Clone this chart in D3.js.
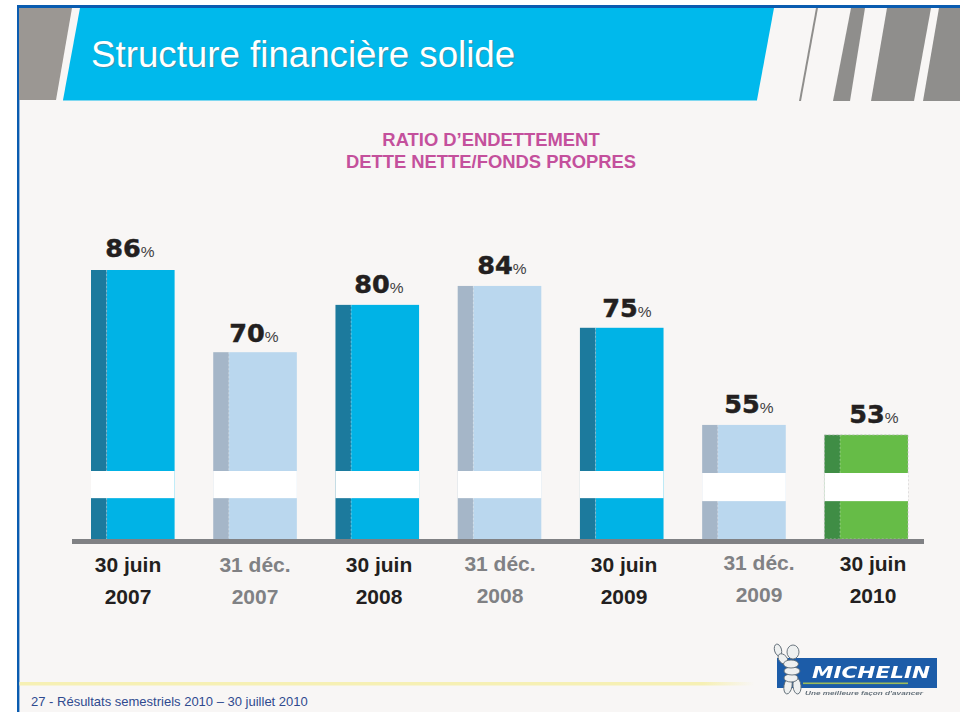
<!DOCTYPE html>
<html><head><meta charset="utf-8">
<script src="https://cdnjs.cloudflare.com/ajax/libs/d3/7.8.5/d3.min.js"></script>
<style>html,body{margin:0;padding:0;background:#fff}svg{display:block}</style></head>
<body><div id="c"></div>
<script>
const title = "Structure financière solide";
const subtitleLines = ["RATIO D’ENDETTEMENT", "DETTE NETTE/FONDS PROPRES"];
const footer = "27 - Résultats semestriels 2010 – 30 juillet 2010";
const categories = ["30 juin 2007","31 déc. 2007","30 juin 2008","31 déc. 2008","30 juin 2009","31 déc. 2009","30 juin 2010"];
const dayLabels = ["30 juin","31 déc.","30 juin","31 déc.","30 juin","31 déc.","30 juin"];
const yearLabels = ["2007","2007","2008","2008","2009","2009","2010"];
const values = [86,70,80,84,75,55,53];
// Bars are drawn on a broken axis; levels are the heights as they read in the picture
const drawnLevels = [86,69.5,79,82.8,74.4,54.9,52.9];
const kinds = ["solid","pale","solid","pale","solid","pale","green"];
const breakLow = [40.2,40.2,40.2,40.2,40.2,39.6,39.6];
const breakHigh = [45.65,45.65,45.65,45.65,45.65,45.25,45.25];
const axisMin = 32, axisMax = 86;

const W=960,H=712;
const svg=d3.select("#c").append("svg").attr("width",W).attr("height",H);
const defs=svg.append("defs");
const fade=defs.append("linearGradient").attr("id","fade");
fade.append("stop").attr("offset","0").attr("stop-color","#f6f0b4");
fade.append("stop").attr("offset","0.93").attr("stop-color","#f6f0b4");
fade.append("stop").attr("offset","1").attr("stop-color","#f6f0b4").attr("stop-opacity",0);
const blur=defs.append("filter").attr("id","soft").attr("x","-10%").attr("y","-20%").attr("width","120%").attr("height","140%");
blur.append("feGaussianBlur").attr("stdDeviation",0.55);

svg.append("rect").attr("width",W).attr("height",H).attr("fill","#ffffff");
svg.append("rect").attr("x",19).attr("y",8).attr("width",W-19).attr("height",H-8).attr("fill","#f8f6f5");
svg.append("rect").attr("x",17).attr("y",5).attr("width",W-17).attr("height",3).attr("fill","#0a5cb0");
svg.append("rect").attr("x",17).attr("y",5).attr("width",2.4).attr("height",H-5).attr("fill","#0a5cb0");

// header band
const poly=(pts,fill)=>svg.append("polygon").attr("points",pts.map(p=>p.join(",")).join(" ")).attr("fill",fill);
poly([[19,8],[72,8],[56,100],[19,100]],"#9b9793");
poly([[80,8],[774,8],[757,100],[63,100]],"#00b9ec");
poly([[63,100],[757,100],[757,101],[63,101]],"#7fd8f0");
poly([[816,8],[818,8],[801,101],[799,101]],"#8f8e8c");
poly([[851,8],[865,8],[850,101],[833,101]],"#8f8e8c");
poly([[887,8],[931,8],[914,101],[871,101]],"#8f8e8c");
poly([[939,8],[960,8],[960,101],[923,101]],"#8f8e8c");

const titleSize=36.7;
svg.append("text").attr("x",91).attr("y",67).attr("font-family","Liberation Sans").attr("font-size",titleSize)
  .attr("fill","#5a7f90").attr("opacity",0.6).attr("transform","translate(1.2,1.2)").text(title);
svg.append("text").attr("x",91).attr("y",67).attr("font-family","Liberation Sans").attr("font-size",titleSize)
  .attr("fill","#ffffff").text(title);

svg.append("g").selectAll("text").data(subtitleLines).join("text")
  .attr("x",491).attr("y",(d,i)=>146+i*21.5).attr("text-anchor","middle")
  .attr("font-family","Liberation Sans").attr("font-weight",700).attr("font-size",18.4)
  .attr("fill","#c4509c").text(d=>d);

// scales
const x=d3.scaleBand().domain(categories).range([91,908]).paddingInner(0.316).paddingOuter(0);
const y=d3.scaleLinear().domain([axisMin,axisMax]).range([539,270]);
const sideShare=0.187;
const palette={solid:["#1c7a9d","#00b3e6"],pale:["#a5b6c8","#bad7ee"],green:["#3f8d45","#66bc47"]};

const bars=svg.append("g").selectAll("g").data(categories).join("g").attr("transform",d=>`translate(${x(d)},0)`);
bars.append("rect").attr("x",x.bandwidth()*sideShare).attr("width",x.bandwidth()*(1-sideShare))
  .attr("y",(d,i)=>y(drawnLevels[i])).attr("height",(d,i)=>y(axisMin)-y(drawnLevels[i]))
  .attr("fill",(d,i)=>palette[kinds[i]][1]);
bars.append("rect").attr("x",0).attr("width",x.bandwidth()*sideShare)
  .attr("y",(d,i)=>y(drawnLevels[i])).attr("height",(d,i)=>y(axisMin)-y(drawnLevels[i]))
  .attr("fill",(d,i)=>palette[kinds[i]][0]);
// dotted side line and outline of the green bar
bars.append("line").attr("x1",x.bandwidth()*sideShare).attr("x2",x.bandwidth()*sideShare)
  .attr("y1",(d,i)=>y(drawnLevels[i])).attr("y2",y(axisMin))
  .attr("stroke","#ffffff").attr("stroke-opacity",0.3).attr("stroke-dasharray","2 2");
bars.filter((d,i)=>kinds[categories.indexOf(d)]==="green").append("rect").attr("x",0).attr("width",x.bandwidth())
  .attr("y",y(drawnLevels[6])).attr("height",y(axisMin)-y(drawnLevels[6]))
  .attr("fill","none").attr("stroke","#bbbbbb").attr("stroke-dasharray","2 2").attr("stroke-width",0.8);
bars.append("rect").attr("x",0).attr("width",x.bandwidth())
  .attr("y",(d,i)=>y(breakHigh[i])).attr("height",(d,i)=>y(breakLow[i])-y(breakHigh[i]))
  .attr("fill","#ffffff");

// baseline
svg.append("line").attr("x1",72).attr("x2",924).attr("y1",y(axisMin)+2.5).attr("y2",y(axisMin)+2.5)
  .attr("stroke","#808184").attr("stroke-width",5);

// value labels
const valueCx=[130,254,379,502,627,749,874];
const valueDy=[-13,-10,-12,-12,-11,-12,-12];
const valueLabels=svg.append("g").selectAll("text").data(values).join("text")
  .attr("x",(d,i)=>valueCx[i]).attr("y",(d,i)=>y(drawnLevels[i])+valueDy[i])
  .attr("text-anchor","middle");
valueLabels.append("tspan").attr("font-family","DejaVu Sans").attr("font-weight",700).attr("font-size",25.5)
  .attr("fill","#231f20").attr("stroke","#231f20").attr("stroke-width",0.5).text(d=>d);
valueLabels.append("tspan").attr("font-family","Liberation Sans").attr("font-size",15.5).attr("fill","#414042").text("%");

// category labels
const labelCx=[128,255,379,500,624,759,873];
const labelDy=[0,0,0,-1,0,-2,-1];
const labelFill=i=>kinds[i]==="pale"?"#808184":"#231f20";
const labs=svg.append("g").selectAll("g").data(categories).join("g");
labs.append("text").attr("x",(d,i)=>labelCx[i]).attr("y",(d,i)=>572+labelDy[i]).text((d,i)=>dayLabels[i]);
labs.append("text").attr("x",(d,i)=>labelCx[i]).attr("y",(d,i)=>604+labelDy[i]).text((d,i)=>yearLabels[i]);
labs.selectAll("text").attr("text-anchor","middle").attr("font-family","Liberation Sans").attr("font-weight",700)
  .attr("font-size",21).attr("fill",function(){const i=categories.indexOf(d3.select(this.parentNode).datum());return labelFill(i);});

// footer
svg.append("rect").attr("x",19.4).attr("y",682).attr("width",735).attr("height",3.5).attr("fill","url(#fade)");
svg.append("text").attr("x",31).attr("y",706).attr("font-family","Liberation Sans").attr("font-size",13)
  .attr("fill","#2f4a8f").text(footer);

// logo
const logo=svg.append("g").attr("filter","url(#soft)");
logo.append("rect").attr("x",777).attr("y",658).attr("width",160).attr("height",30).attr("fill","#1a5ca8");
logo.append("rect").attr("x",803).attr("y",682.5).attr("width",105).attr("height",1.6).attr("fill","#9cbb5a");
const puff=(cx,cy,rx,ry,rot)=>logo.append("ellipse").attr("cx",cx).attr("cy",cy).attr("rx",rx).attr("ry",ry)
  .attr("transform",`rotate(${rot||0} ${cx} ${cy})`).attr("fill","#eef0f0").attr("stroke","#5f6b75").attr("stroke-width",0.9);
puff(778,650,3.5,6,-15);
puff(783,659,4,6,-40);
puff(788,686,4,8,10);
puff(797,686,4,8,-5);
puff(791,678,7,4);
puff(792,671,8,4);
puff(791,664,7.5,4);
puff(793,652,6,7);
logo.append("text").attr("x",812).attr("y",678).attr("font-family","DejaVu Sans").attr("font-weight",700).attr("font-style","italic")
  .attr("font-size",15.5).attr("textLength",118).attr("lengthAdjust","spacingAndGlyphs").attr("fill","#ffffff").text("MICHELIN");
logo.append("text").attr("x",805).attr("y",695).attr("font-family","Liberation Sans").attr("font-style","italic").attr("font-weight",700)
  .attr("font-size",6).attr("textLength",118).attr("lengthAdjust","spacingAndGlyphs").attr("fill","#66727c").text("Une meilleure façon d'avancer");
</script></body></html>
